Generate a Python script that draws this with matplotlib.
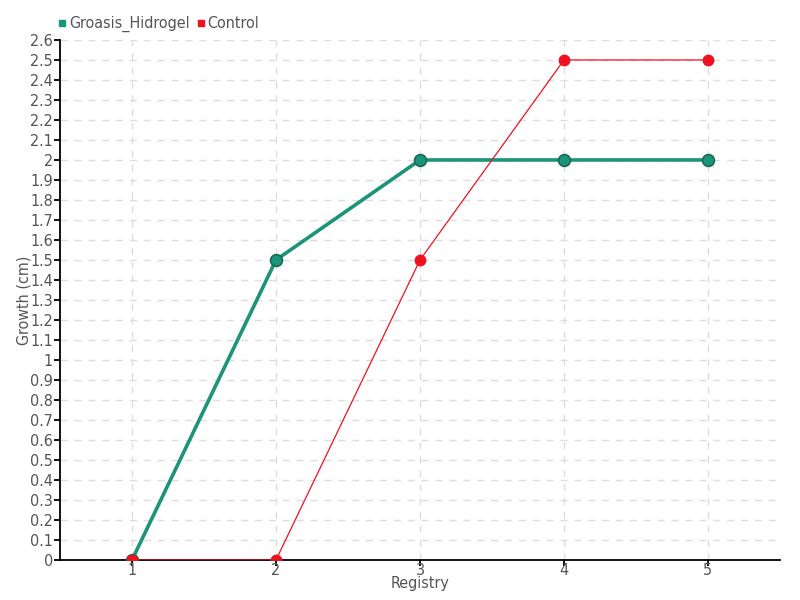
import matplotlib
matplotlib.use("Agg")
import matplotlib.pyplot as plt
from matplotlib.ticker import FuncFormatter, MultipleLocator
from matplotlib.lines import Line2D

registry = [1, 2, 3, 4, 5]
groasis_hidrogel = [0, 1.5, 2, 2, 2]
control = [0, 0, 1.5, 2.5, 2.5]

green = "#1b9479"
green_edge = "#1a6b52"
red = "#ee1122"
text_col = "#555555"

plt.rcParams["font.family"] = ["DejaVu Sans"]
plt.rcParams["font.stretch"] = "condensed"

fig = plt.figure(figsize=(8, 6), dpi=100)
ax = fig.add_axes([0.075, 0.0667, 0.9, 0.8667])

ax.plot(registry, groasis_hidrogel, color=green, lw=2.6, marker="o", ms=8.5,
        markerfacecolor=green, markeredgecolor=green_edge, markeredgewidth=1.2, zorder=3)
ax.plot(registry, control, color=red, lw=0.9, marker="o", ms=7.5,
        markerfacecolor=red, markeredgecolor=red, zorder=4)

ax.set_xlim(0.5, 5.5)
ax.set_ylim(0, 2.6)
ax.xaxis.set_major_locator(MultipleLocator(1))
ax.yaxis.set_major_locator(MultipleLocator(0.1))
ax.yaxis.set_major_formatter(FuncFormatter(lambda v, p: "%g" % round(v, 1)))

ax.grid(True, linestyle=(0, (5, 5)), color="#dddddd", lw=1)
ax.set_axisbelow(True)
for s in ["top", "right"]:
    ax.spines[s].set_visible(False)
ax.spines["left"].set_linewidth(1.3)
ax.spines["bottom"].set_linewidth(1.3)
ax.tick_params(axis="both", colors="black", labelcolor=text_col, labelsize=11.5,
               length=4, width=1.3, pad=1)
ax.tick_params(axis="x", pad=-2)

ax.set_xlabel("Registry", color=text_col, fontsize=11.5, labelpad=-1)
ax.set_ylabel("Growth (cm)", color=text_col, fontsize=11.5)
ax.yaxis.set_label_coords(-0.04, 0.5)

handles = [
    Line2D([], [], ls="none", marker="s", ms=4.5, color=green, label="Groasis_Hidrogel"),
    Line2D([], [], ls="none", marker="s", ms=4.5, color=red, label="Control"),
]
fig.legend(handles=handles, loc="upper left", bbox_to_anchor=(0.055, 0.997), ncol=2,
           frameon=False, fontsize=11.5, handlelength=0.5, handletextpad=0.2,
           columnspacing=0.4, labelcolor=text_col)

fig.savefig("out.png")
